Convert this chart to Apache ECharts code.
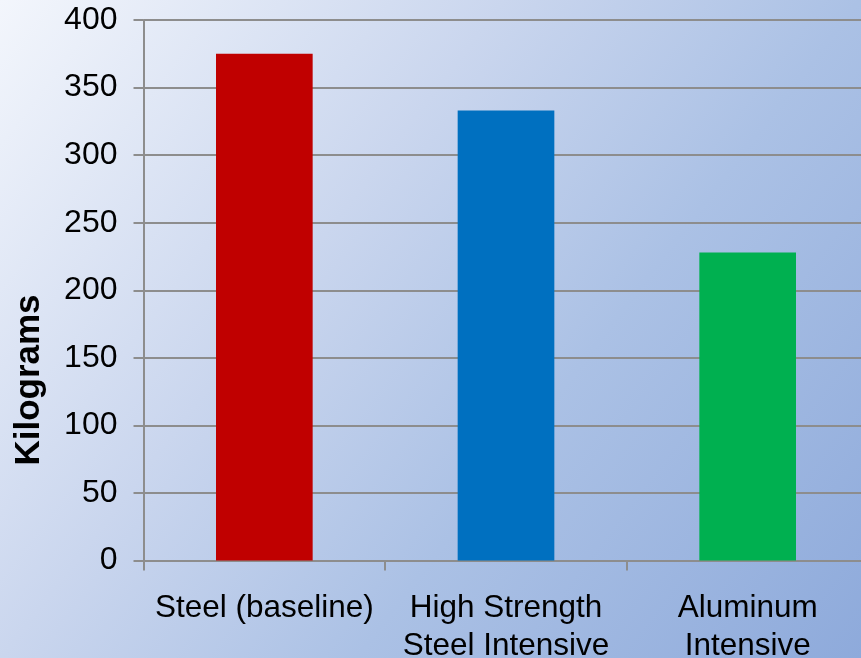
<!DOCTYPE html>
<html>
<head>
<meta charset="utf-8">
<script src="https://cdn.jsdelivr.net/npm/echarts@6/dist/echarts.min.js"></script>
<style>
  html, body { margin: 0; padding: 0; }
  #chart { width: 861px; height: 658px; }
</style>
</head>
<body>
<div id="chart"></div>
<script>
// Vehicle body mass by material strategy
const categories = ['Steel (baseline)', 'High Strength\nSteel Intensive', 'Aluminum\nIntensive'];
const massKg = [375, 333, 228];
const barColors = ['#c00000', '#0070c0', '#00b050'];
const yTicks = { min: 0, max: 400, interval: 50 };
const yAxisTitle = 'Kilograms';

const chart = echarts.init(document.getElementById('chart'), null, { renderer: 'canvas' });

const gridColor = '#8d8d8d';
const fontFamily = '"Liberation Sans", Arial, sans-serif';

chart.setOption({
  animation: false,
  backgroundColor: new echarts.graphic.LinearGradient(0, 0, 1, 1, [
    { offset: 0, color: '#f3f6fc' },
    { offset: 0.37, color: '#cad6ee' },
    { offset: 0.63, color: '#abc1e5' },
    { offset: 1, color: '#8eaadb' }
  ]),
  grid: {
    left: 143.5, right: -7.5, top: 20, bottom: 97.5,
    containLabel: false,
    outerBoundsMode: 'none'
  },
  xAxis: {
    type: 'category',
    data: categories,
    boundaryGap: true,
    axisLine: { show: true, lineStyle: { color: gridColor, width: 2 } },
    axisTick: { show: true, length: 10, alignWithLabel: false, lineStyle: { color: gridColor, width: 2 } },
    axisLabel: {
      interval: 0,
      margin: 29,
      color: '#000',
      fontFamily: fontFamily,
      fontSize: 31.5,
      lineHeight: 38,
      align: 'center'
    },
    splitLine: { show: false }
  },
  yAxis: {
    type: 'value',
    min: yTicks.min,
    max: yTicks.max,
    interval: yTicks.interval,
    axisLine: { show: true, lineStyle: { color: gridColor, width: 2 } },
    axisTick: { show: true, length: 10, lineStyle: { color: gridColor, width: 2 } },
    axisLabel: {
      margin: 26,
      color: '#000',
      fontFamily: fontFamily,
      fontSize: 32
    },
    splitLine: { show: true, lineStyle: { color: gridColor, width: 2 } }
  },
  graphic: [{
    type: 'text',
    x: 29,
    y: 380,
    rotation: Math.PI / 2,
    style: {
      text: yAxisTitle,
      fill: '#000',
      font: 'bold 35px ' + fontFamily,
      textAlign: 'center',
      textVerticalAlign: 'middle'
    }
  }],
  series: [{
    type: 'bar',
    barWidth: '40%',
    data: massKg.map((v, i) => ({ value: v, itemStyle: { color: barColors[i] } })),
    z: 3
  }]
});
</script>
</body>
</html>
